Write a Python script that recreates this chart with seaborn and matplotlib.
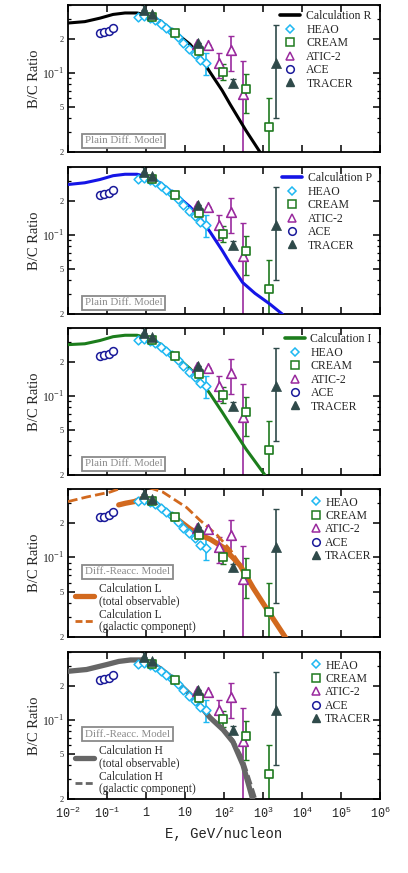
import numpy as np
import seaborn as sns
import matplotlib
matplotlib.use("Agg")
import matplotlib.pyplot as plt
from matplotlib.lines import Line2D
from matplotlib.ticker import LogLocator, NullFormatter, FixedLocator

# --- measured data (GeV/nucleon, B/C) ---
heao_e = [0.62, 0.88, 1.23, 1.72, 2.4, 3.35, 4.67, 6.5, 9.1, 12.7, 17.7, 24.7, 35.0]
heao_bc = [0.313, 0.318, 0.305, 0.293, 0.274, 0.250, 0.232, 0.207, 0.183, 0.164, 0.147, 0.130, 0.122]
heao_lo = [0.0, 0.0, 0.0, 0.0, 0.0, 0.0, 0.0, 0.0, 0.0, 0.0, 0.0, 0.0, 0.026]
heao_hi = [0.0, 0.0, 0.0, 0.0, 0.0, 0.0, 0.0, 0.0, 0.0, 0.0, 0.0, 0.0, 0.029]

cream_e = [1.43, 5.5, 22.9, 94, 366, 1425]
cream_bc = [0.313, 0.226, 0.157, 0.102, 0.072, 0.033]
cream_lo = [0.0, 0.0, 0.008, 0.015, 0.028, 0.032]
cream_hi = [0.0, 0.0, 0.008, 0.018, 0.026, 0.027]

atic_e = [20.3, 38.9, 74.5, 151, 307]
atic_bc = [0.18, 0.177, 0.123, 0.159, 0.065]
atic_lo = [0.0, 0.0, 0.033, 0.055, 0.064]
atic_hi = [0.0, 0.0, 0.027, 0.053, 0.062]

ace_e = [0.066, 0.084, 0.11, 0.142]
ace_bc = [0.228, 0.229, 0.234, 0.252]

tracer_e = [0.89, 1.4, 21, 170, 2150]
tracer_bc = [0.36, 0.33, 0.185, 0.082, 0.123]
tracer_lo = [0.0, 0.0, 0.0, 0.006, 0.083]
tracer_hi = [0.04, 0.0, 0.0, 0.006, 0.143]

# --- model curves ---
calc_r_e = [0.01, 0.027, 0.066, 0.143, 0.29, 0.59, 1.0, 2.28, 5.5, 13.4, 24.3, 43.6, 90, 143, 365, 835, 1300]
calc_r_bc = [0.277, 0.285, 0.306, 0.33, 0.34, 0.34, 0.327, 0.29, 0.23, 0.18, 0.141, 0.102, 0.07, 0.053, 0.031, 0.02, 0.015]

calc_p_e = [0.01, 0.027, 0.066, 0.143, 0.29, 0.59, 1.0, 2.28, 5.5, 13.4, 24.3, 43.6, 90, 143, 300, 620, 1500, 3100, 4500]
calc_p_bc = [0.28, 0.29, 0.31, 0.335, 0.345, 0.345, 0.33, 0.29, 0.23, 0.178, 0.142, 0.107, 0.073, 0.056, 0.038, 0.0305, 0.0245, 0.02, 0.0175]

calc_i_e = [0.01, 0.027, 0.066, 0.143, 0.29, 0.59, 1.0, 2.28, 5.5, 13.4, 24.3, 43.6, 90, 143, 365, 1120, 1500]
calc_i_bc = [0.285, 0.29, 0.31, 0.335, 0.345, 0.345, 0.33, 0.29, 0.228, 0.175, 0.14, 0.105, 0.072, 0.056, 0.034, 0.02, 0.017]

calc_l_e = [0.2, 0.3, 0.5, 0.8, 1.3, 2.3, 5.5, 13, 24, 44, 95, 260, 560, 1500, 3700, 5000]
calc_l_bc = [0.29, 0.30, 0.31, 0.33, 0.32, 0.28, 0.225, 0.18, 0.158, 0.145, 0.123, 0.085, 0.054, 0.032, 0.02, 0.017]

calc_lg_e = [0.01, 0.03, 0.12, 0.3, 0.8, 2.7, 11, 24, 67, 150, 260, 560, 1500, 3700, 5000]
calc_lg_bc = [0.31, 0.34, 0.376, 0.42, 0.43, 0.376, 0.275, 0.213, 0.157, 0.115, 0.087, 0.055, 0.032, 0.02, 0.017]

calc_h_e = [0.01, 0.03, 0.1, 0.2, 0.4, 0.8, 1.3, 2.3, 5.5, 13, 24, 44, 95, 170, 307, 520, 650]
calc_h_bc = [0.27, 0.28, 0.31, 0.33, 0.34, 0.34, 0.32, 0.285, 0.225, 0.17, 0.135, 0.105, 0.082, 0.064, 0.04, 0.021, 0.016]

calc_hg_e = [0.01, 0.03, 0.1, 0.2, 0.4, 0.8, 1.3, 2.3, 5.5, 13, 24, 44, 95, 170, 307, 600, 750]
calc_hg_bc = [0.27, 0.28, 0.31, 0.33, 0.34, 0.34, 0.32, 0.285, 0.225, 0.17, 0.135, 0.105, 0.083, 0.067, 0.045, 0.022, 0.017]

x_ticks = [1e-2, 1e-1, 1, 10, 1e2, 1e3, 1e4, 1e5, 1e6]
x_labels = [r"$\mathtt{10}^{\mathtt{-2}}$", r"$\mathtt{10}^{\mathtt{-1}}$", r"$\mathtt{1}$", r"$\mathtt{10}$",
            r"$\mathtt{10}^{\mathtt{2}}$", r"$\mathtt{10}^{\mathtt{3}}$", r"$\mathtt{10}^{\mathtt{4}}$",
            r"$\mathtt{10}^{\mathtt{5}}$", r"$\mathtt{10}^{\mathtt{6}}$"]
y_ticks = [0.02, 0.05, 0.1, 0.2]
y_labels = ["2", "5", r"$\mathrm{10}^{\mathrm{-1}}$", "2"]

C_HEAO = "#1fb8f2"
C_CREAM = "#1f7a1f"
C_ATIC = "#9a2a9e"
C_ACE = "#1a1a9a"
C_TRACER = "#2f4a4a"

sns.set_theme(style="ticks")
plt.rcParams["font.family"] = ["Liberation Serif", "DejaVu Serif"]
plt.rcParams["mathtext.fontset"] = "custom"
plt.rcParams["mathtext.rm"] = "Liberation Serif"
plt.rcParams["mathtext.tt"] = "Liberation Mono"


def draw_data(ax):
    ax.errorbar(heao_e, heao_bc, yerr=[heao_lo, heao_hi], fmt="none", ecolor=C_HEAO, elinewidth=1.2, capsize=2)
    ax.errorbar(cream_e, cream_bc, yerr=[cream_lo, cream_hi], fmt="none", ecolor=C_CREAM, elinewidth=1.2, capsize=2)
    ax.errorbar(atic_e, atic_bc, yerr=[atic_lo, atic_hi], fmt="none", ecolor=C_ATIC, elinewidth=1.2, capsize=2)
    ax.errorbar(tracer_e, tracer_bc, yerr=[tracer_lo, tracer_hi], fmt="none", ecolor=C_TRACER, elinewidth=1.2, capsize=2)
    sns.scatterplot(x=ace_e, y=ace_bc, ax=ax, marker="o", s=32, facecolor="white", edgecolor=C_ACE, linewidth=1.1, zorder=5)
    sns.scatterplot(x=heao_e, y=heao_bc, ax=ax, marker="D", s=20, facecolor="white", edgecolor=C_HEAO, linewidth=1.1, zorder=5)
    sns.scatterplot(x=atic_e, y=atic_bc, ax=ax, marker="^", s=48, facecolor="white", edgecolor=C_ATIC, linewidth=1.2, zorder=6)
    sns.scatterplot(x=cream_e, y=cream_bc, ax=ax, marker="s", s=40, facecolor="white", edgecolor=C_CREAM, linewidth=1.2, zorder=6)
    sns.scatterplot(x=tracer_e, y=tracer_bc, ax=ax, marker="^", s=52, color=C_TRACER, edgecolor=C_TRACER, linewidth=0.5, zorder=7)


def data_handles(ms=6):
    return [
        Line2D([], [], ls="none", marker="D", ms=ms - 1.5, mfc="white", mec=C_HEAO, mew=1.1),
        Line2D([], [], ls="none", marker="s", ms=ms, mfc="white", mec=C_CREAM, mew=1.1),
        Line2D([], [], ls="none", marker="^", ms=ms, mfc="white", mec=C_ATIC, mew=1.1),
        Line2D([], [], ls="none", marker="o", ms=ms - 0.5, mfc="white", mec=C_ACE, mew=1.1),
        Line2D([], [], ls="none", marker="^", ms=ms, mfc=C_TRACER, mec=C_TRACER),
    ]


DATA_LABELS = ["HEAO", "CREAM", "ATIC-2", "ACE", "TRACER"]


def style_axes(ax, bottom):
    ax.set_xscale("log")
    ax.set_yscale("log")
    ax.set_xlim(1e-2, 1e6)
    ax.set_ylim(0.02, 0.4)
    for s in ax.spines.values():
        s.set_linewidth(1.3)
        s.set_color("black")
    ax.xaxis.set_major_locator(FixedLocator(x_ticks))
    ax.xaxis.set_minor_locator(LogLocator(base=10, subs=np.arange(2, 10)))
    ax.xaxis.set_minor_formatter(NullFormatter())
    ax.yaxis.set_major_locator(FixedLocator(y_ticks))
    ax.yaxis.set_minor_locator(LogLocator(base=10, subs=np.arange(2, 10)))
    ax.yaxis.set_minor_formatter(NullFormatter())
    ax.tick_params(which="both", direction="in", top=True, right=True, color="black")
    ax.tick_params(which="major", length=5, width=1.1)
    ax.tick_params(which="minor", length=2.5, width=0.9)
    ax.tick_params(axis="y", which="major", pad=3)
    ax.set_yticklabels(y_labels)
    for lab, fs in zip(ax.get_yticklabels(), [6, 6, 8.5, 6]):
        lab.set_fontsize(fs)
    if bottom:
        ax.set_xticklabels(x_labels, fontsize=8.5, color="#222222")
        ax.tick_params(axis="x", which="major", pad=5)
        ax.set_xlabel("E, GeV/nucleon", family="Liberation Mono", fontsize=10, color="#222222", labelpad=4)
    else:
        ax.set_xticklabels([])
    ax.set_ylabel("B/C Ratio", fontsize=10.5)
    ax.yaxis.set_label_coords(-0.088, 0.5)


def model_box(ax, text, y):
    ax.text(0.055, y, text, transform=ax.transAxes, fontsize=7.8, color="#8a8a8a", va="bottom", ha="left",
            bbox=dict(boxstyle="square,pad=0.25", fc="white", ec="#8a8a8a", lw=1.3), zorder=8)


W, H = 408, 873
panels = [(5, 152), (167, 314), (328, 475), (489, 637), (652, 799)]
fig = plt.figure(figsize=(W / 100, H / 100), dpi=100)
axes = []
for i, (top, bot) in enumerate(panels):
    ax = fig.add_axes([68 / W, 1 - bot / H, 312 / W, (bot - top) / H])
    axes.append(ax)

# plain diffusion panels
plain = [(calc_r_e, calc_r_bc, "black", "Calculation R"),
         (calc_p_e, calc_p_bc, "#1515e6", "Calculation P"),
         (calc_i_e, calc_i_bc, "#1c7d1c", "Calculation I")]
for ax, (ce, cb, col, name) in zip(axes[:3], plain):
    sns.lineplot(x=ce, y=cb, ax=ax, color=col, linewidth=2.2, sort=False, estimator=None, zorder=3)
    draw_data(ax)
    style_axes(ax, False)
    handles = [Line2D([], [], color=col, lw=2.6)] + data_handles()
    ax.legend(handles, [name] + DATA_LABELS, loc="upper right", bbox_to_anchor=(1.0, 1.019), frameon=False,
              fontsize=8.5, handlelength=1.7, handletextpad=0.5, labelspacing=0.12, borderaxespad=0.3)
    model_box(ax, "Plain Diff. Model", 0.045)

# diffusive reacceleration panels
reacc = [(axes[3], calc_l_e, calc_l_bc, calc_lg_e, calc_lg_bc, "#d2691e", "Calculation L"),
         (axes[4], calc_h_e, calc_h_bc, calc_hg_e, calc_hg_bc, "#666666", "Calculation H")]
for ax, ce, cb, ge, gb, col, name in reacc:
    sns.lineplot(x=ge, y=gb, ax=ax, color=col, linewidth=2.0, linestyle=(0, (3.5, 1.5)), sort=False, estimator=None, zorder=3)
    sns.lineplot(x=ce, y=cb, ax=ax, color=col, linewidth=3.8, sort=False, estimator=None, zorder=3)
    draw_data(ax)
    style_axes(ax, ax is axes[4])
    leg = ax.legend(data_handles(), DATA_LABELS, loc="upper right", bbox_to_anchor=(1.0, 1.005), frameon=False,
                    fontsize=8.5, handlelength=0.8, handletextpad=0.4, labelspacing=0.12, borderaxespad=0.3)
    ax.add_artist(leg)
    calc_handles = [Line2D([], [], color=col, lw=3.8), Line2D([], [], color=col, lw=2.0, ls=(0, (2.5, 1.2)))]
    leg2 = ax.legend(calc_handles, [name + "\n(total observable)", name + "\n(galactic component)"],
                     loc="lower left", bbox_to_anchor=(0.018, 0.02), frameon=False, fontsize=8.3,
                     handlelength=1.7, handletextpad=0.4, labelspacing=0.15, borderaxespad=0.0, borderpad=0.1)
    for t in leg2.get_texts():
        t.set_linespacing(1.0)
    leg2.set_zorder(9)
    model_box(ax, "Diff.-Reacc. Model", 0.41)

fig.savefig("out.png", dpi=100)
